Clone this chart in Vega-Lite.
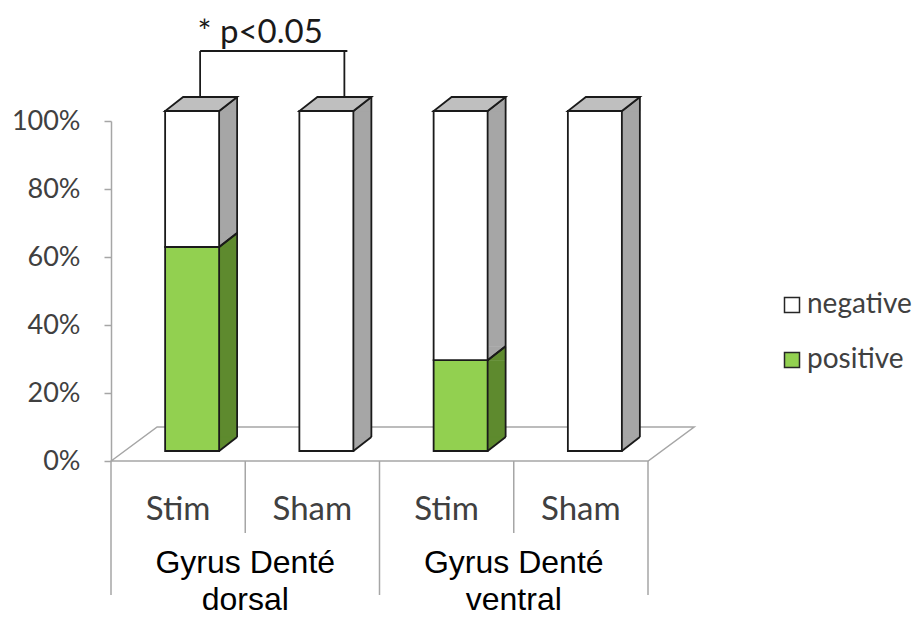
{
  "$schema": "https://vega.github.io/schema/vega-lite/v6.json",
  "width": 537,
  "height": 340,
  "autosize": {"type": "none"},
  "padding": {"left": 111, "top": 121, "right": 268, "bottom": 156},
  "background": "#FFFFFF",
  "config": {"view": {"stroke": null}},
  "layer": [
    {
      "data": {
        "values": [
          {"bar": "dorsal Stim", "region": "Gyrus Denté\ndorsal", "condition": "Stim", "result": "positive", "value": 0.6},
          {"bar": "dorsal Stim", "region": "Gyrus Denté\ndorsal", "condition": "Stim", "result": "negative", "value": 0.4},
          {"bar": "dorsal Sham", "region": "Gyrus Denté\ndorsal", "condition": "Sham", "result": "positive", "value": 0},
          {"bar": "dorsal Sham", "region": "Gyrus Denté\ndorsal", "condition": "Sham", "result": "negative", "value": 1},
          {"bar": "ventral Stim", "region": "Gyrus Denté\nventral", "condition": "Stim", "result": "positive", "value": 0.267},
          {"bar": "ventral Stim", "region": "Gyrus Denté\nventral", "condition": "Stim", "result": "negative", "value": 0.733},
          {"bar": "ventral Sham", "region": "Gyrus Denté\nventral", "condition": "Sham", "result": "positive", "value": 0},
          {"bar": "ventral Sham", "region": "Gyrus Denté\nventral", "condition": "Sham", "result": "negative", "value": 1}
        ]
      },
      "transform": [
        {"stack": "value", "groupby": ["bar"], "sort": [{"field": "result", "order": "descending"}], "as": ["v0", "v1"]},
        {"filter": "datum.value > 0"}
      ],
      "encoding": {
        "x": {"field": "bar", "type": "nominal", "axis": null,
              "scale": {"domain": ["dorsal Stim", "dorsal Sham", "ventral Stim", "ventral Sham"], "paddingInner": 0, "paddingOuter": 0}}
      },
      "layer": [
        {
          "transform": [{"filter": "datum.bar === 'dorsal Stim' && datum.result === 'negative'"}],
          "mark": {"type": "point", "shape": "M-67,0L-21,-34L516,-34L470,0Z", "size": 4, "filled": false, "stroke": "#A6A6A6", "strokeWidth": 1.5, "opacity": 1},
          "encoding": {"y": {"datum": 0, "type": "quantitative", "scale": {"domain": [0, 1], "nice": false}}}
        },
        {
          "transform": [{"filter": "datum.result === 'negative' && datum.condition === 'Stim'"}],
          "mark": {"type": "rule", "stroke": "#A6A6A6", "strokeWidth": 1.5, "y2Offset": 134},
          "encoding": {
            "x": {"field": "bar", "type": "nominal", "bandPosition": 0},
            "y": {"datum": 0, "type": "quantitative"},
            "y2": {"datum": 0}
          }
        },
        {
          "transform": [{"filter": "datum.result === 'negative' && datum.condition === 'Sham'"}],
          "mark": {"type": "rule", "stroke": "#A6A6A6", "strokeWidth": 1.5, "y2Offset": 72},
          "encoding": {
            "x": {"field": "bar", "type": "nominal", "bandPosition": 0},
            "y": {"datum": 0, "type": "quantitative"},
            "y2": {"datum": 0}
          }
        },
        {
          "transform": [{"filter": "datum.result === 'negative' && datum.bar === 'ventral Sham'"}],
          "mark": {"type": "rule", "stroke": "#A6A6A6", "strokeWidth": 1.5, "y2Offset": 134},
          "encoding": {
            "x": {"field": "bar", "type": "nominal", "bandPosition": 1},
            "y": {"datum": 0, "type": "quantitative"},
            "y2": {"datum": 0}
          }
        },
        {
          "mark": {"type": "bar", "width": 18, "xOffset": 50, "yOffset": -10, "y2Offset": -24, "strokeWidth": 0},
          "encoding": {
            "y": {"field": "v1", "type": "quantitative", "title": null},
            "y2": {"field": "v0"},
            "fill": {"condition": {"test": "datum.result === 'positive'", "value": "#5E8A2E"}, "value": "#A6A6A6"}
          }
        },
        {
          "mark": {"type": "point", "shape": "M41,-10L59,-24L59,-10Z", "size": 4, "filled": true, "opacity": 1, "strokeWidth": 0.8},
          "encoding": {
            "y": {"field": "v1", "type": "quantitative", "title": null},
            "fill": {"condition": {"test": "datum.result === 'positive'", "value": "#5E8A2E"}, "value": "#A6A6A6"},
            "stroke": {"condition": {"test": "datum.result === 'positive'", "value": "#5E8A2E"}, "value": "#A6A6A6"}
          }
        },
        {
          "mark": {"type": "point", "shape": "M41,-10L41,-24L59,-24Z", "size": 4, "filled": true, "opacity": 1, "strokeWidth": 0.8},
          "encoding": {
            "y": {"field": "v0", "type": "quantitative", "title": null},
            "fill": {"condition": {"test": "datum.result === 'positive'", "value": "#5E8A2E"}, "value": "#A6A6A6"},
            "stroke": {"condition": {"test": "datum.result === 'positive'", "value": "#5E8A2E"}, "value": "#A6A6A6"}
          }
        },
        {
          "mark": {"type": "rule", "xOffset": 59, "yOffset": -24, "y2Offset": -24, "stroke": "#1A1A1A", "strokeWidth": 1.8},
          "encoding": {
            "y": {"field": "v1", "type": "quantitative", "title": null},
            "y2": {"field": "v0"}
          }
        },
        {
          "mark": {"type": "point", "shape": "M41,-10L59,-24", "size": 4, "filled": false, "opacity": 1, "stroke": "#1A1A1A", "strokeWidth": 1.8},
          "encoding": {"y": {"field": "v1", "type": "quantitative", "title": null}}
        },
        {
          "mark": {"type": "point", "shape": "M41,-10L59,-24", "size": 4, "filled": false, "opacity": 1, "stroke": "#1A1A1A", "strokeWidth": 1.8},
          "encoding": {"y": {"field": "v0", "type": "quantitative", "title": null}}
        },
        {
          "transform": [{"filter": "datum.v1 >= 0.999"}],
          "mark": {"type": "point", "shape": "M-13,-10L41,-10L59,-24L5,-24Z", "size": 4, "filled": true, "opacity": 1, "fill": "#BFBFBF", "stroke": "#1A1A1A", "strokeWidth": 1.8},
          "encoding": {"y": {"field": "v1", "type": "quantitative", "title": null}}
        },
        {
          "mark": {"type": "bar", "width": 54, "xOffset": 14, "yOffset": -10, "y2Offset": -10, "stroke": "#1A1A1A", "strokeWidth": 1.8},
          "encoding": {
            "y": {"field": "v1", "type": "quantitative", "title": null,
                  "scale": {"domain": [0, 1], "nice": false},
                  "axis": {"values": [0, 0.2, 0.4, 0.6, 0.8, 1], "format": ".0%", "grid": false, "domainColor": "#A6A6A6", "domainWidth": 1.5,
                           "tickColor": "#A6A6A6", "tickWidth": 1.5, "tickSize": 7, "labelFont": "Lato", "labelFontSize": 27,
                           "labelColor": "#404040", "labelPadding": 24}},
            "y2": {"field": "v0"},
            "fill": {"field": "result", "type": "nominal",
                     "scale": {"domain": ["negative", "positive"], "range": ["#FFFFFF", "#92D050"]},
                     "legend": {"orient": "none", "legendX": 667, "legendY": 170, "title": null, "symbolType": "square",
                                "symbolSize": 225, "symbolStrokeColor": "#262626", "symbolStrokeWidth": 1.5,
                                "labelFont": "Lato", "labelFontSize": 28, "labelColor": "#404040", "rowPadding": 27,
                                "labelOffset": 1, "padding": 0}}
          }
        },
        {
          "transform": [{"filter": "datum.result === 'negative'"}],
          "mark": {"type": "text", "font": "Lato", "fontSize": 33, "color": "#404040", "baseline": "middle", "align": "center", "yOffset": 49},
          "encoding": {
            "y": {"datum": 0, "type": "quantitative"},
            "text": {"field": "condition"}
          }
        },
        {
          "transform": [{"filter": "datum.result === 'negative' && datum.condition === 'Stim'"}],
          "mark": {"type": "text", "font": "Liberation Sans", "fontSize": 32, "color": "#000000", "baseline": "middle", "align": "center",
                   "yOffset": 102, "lineBreak": "\n", "lineHeight": 37},
          "encoding": {
            "x": {"field": "bar", "type": "nominal", "bandPosition": 1},
            "y": {"datum": 0, "type": "quantitative"},
            "text": {"field": "region"}
          }
        }
      ]
    },
    {
      "data": {"values": [{"from": "dorsal Stim", "to": "dorsal Sham", "label": "* p<0.05"}]},
      "layer": [
        {
          "mark": {"type": "rule", "xOffset": 22, "x2Offset": 35, "yOffset": -70, "stroke": "#1A1A1A", "strokeWidth": 1.8},
          "encoding": {
            "x": {"field": "from", "type": "nominal", "axis": null, "scale": {"domain": ["dorsal Stim", "dorsal Sham", "ventral Stim", "ventral Sham"], "paddingInner": 0, "paddingOuter": 0}},
            "x2": {"field": "to"},
            "y": {"datum": 1, "type": "quantitative"}
          }
        },
        {
          "mark": {"type": "rule", "xOffset": 22, "yOffset": -70, "y2Offset": -24, "stroke": "#1A1A1A", "strokeWidth": 1.8},
          "encoding": {
            "x": {"field": "from", "type": "nominal", "axis": null, "scale": {"domain": ["dorsal Stim", "dorsal Sham", "ventral Stim", "ventral Sham"], "paddingInner": 0, "paddingOuter": 0}},
            "y": {"datum": 1, "type": "quantitative"},
            "y2": {"datum": 1}
          }
        },
        {
          "mark": {"type": "rule", "xOffset": 32, "yOffset": -70, "y2Offset": -23, "stroke": "#1A1A1A", "strokeWidth": 1.8},
          "encoding": {
            "x": {"field": "to", "type": "nominal", "axis": null, "scale": {"domain": ["dorsal Stim", "dorsal Sham", "ventral Stim", "ventral Sham"], "paddingInner": 0, "paddingOuter": 0}},
            "y": {"datum": 1, "type": "quantitative"},
            "y2": {"datum": 1}
          }
        },
        {
          "mark": {"type": "text", "font": "Lato", "fontSize": 33, "color": "#1A1A1A", "baseline": "alphabetic", "align": "center", "xOffset": 82, "yOffset": -78},
          "encoding": {
            "x": {"field": "from", "type": "nominal", "axis": null, "scale": {"domain": ["dorsal Stim", "dorsal Sham", "ventral Stim", "ventral Sham"], "paddingInner": 0, "paddingOuter": 0}},
            "y": {"datum": 1, "type": "quantitative"},
            "text": {"field": "label"}
          }
        }
      ]
    }
  ]
}
